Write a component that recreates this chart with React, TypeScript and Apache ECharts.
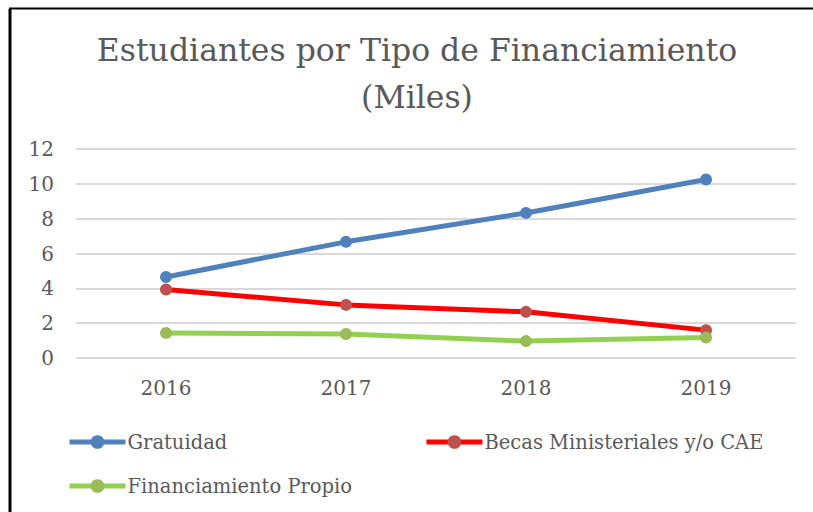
import React, { useEffect, useRef } from "react";
import * as echarts from "echarts";

const years = ["2016", "2017", "2018", "2019"];
const gratuidad = [4.65, 6.67, 8.33, 10.25];
const becas = [3.93, 3.05, 2.65, 1.6];
const propio = [1.44, 1.38, 0.97, 1.18];
const yTicks = [0, 2, 4, 6, 8, 10, 12];

const FONT = "'DejaVu Serif', serif";
const GREY = "#595959";

export default function App() {
  const ref = useRef<HTMLDivElement>(null);
  useEffect(() => {
    if (!ref.current) return;
    const chart = echarts.init(ref.current, null, { renderer: "svg" });
    const mk = (name: string, data: number[], line: string, marker: string) => ({
      name,
      type: "line",
      data,
      symbol: "circle",
      symbolSize: 12,
      lineStyle: { color: line, width: 5 },
      itemStyle: { color: marker, borderWidth: 0 },
    });
    const legendBase = {
      itemWidth: 56,
      itemHeight: 17,
      itemGap: 0,
      lineStyle: { width: 5 },
      textStyle: { fontFamily: FONT, fontSize: 19.5, color: GREY, padding: [0, 0, 0, -3] },
      padding: 0,
    };
    chart.setOption({
      animation: false,
      backgroundColor: "#fff",
      title: {
        text: "Estudiantes por Tipo de Financiamiento\n(Miles)",
        left: 412,
        textAlign: "center",
        top: 21,
        textStyle: {
          fontFamily: FONT,
          fontSize: 31.5,
          fontWeight: "normal",
          color: GREY,
          lineHeight: 47,
        },
      },
      grid: { left: 76, right: 17, top: 149, bottom: 154 },
      xAxis: {
        type: "category",
        data: years,
        boundaryGap: true,
        axisLine: { show: false },
        axisTick: { show: false },
        axisLabel: { fontFamily: FONT, fontSize: 20, color: GREY, margin: 20 },
      },
      yAxis: {
        type: "value",
        min: yTicks[0],
        max: yTicks[yTicks.length - 1],
        interval: 2,
        axisLine: { show: false },
        axisTick: { show: false },
        axisLabel: { fontFamily: FONT, fontSize: 20, color: GREY, margin: 22 },
        splitLine: { lineStyle: { color: "#D9D9D9", width: 2 } },
      },
      legend: [
        { ...legendBase, data: ["Gratuidad"], left: 67, top: 432 },
        { ...legendBase, data: ["Becas Ministeriales y/o CAE"], left: 424, top: 432 },
        { ...legendBase, data: ["Financiamiento Propio"], left: 67, top: 476 },
      ],
      series: [
        mk("Gratuidad", gratuidad, "#4F81BD", "#4F81BD"),
        mk("Becas Ministeriales y/o CAE", becas, "#FF0000", "#C0504D"),
        mk("Financiamiento Propio", propio, "#92D050", "#9BBB59"),
      ],
      graphic: [
        { type: "line", shape: { x1: 10, y1: 9, x2: 10, y2: 512 }, style: { stroke: "#000", lineWidth: 3 } },
        { type: "line", shape: { x1: 9, y1: 8.5, x2: 813, y2: 8.5 }, style: { stroke: "#000", lineWidth: 2 } },
      ],
    });
    return () => chart.dispose();
  }, []);
  return (
    <div
      ref={ref}
      style={{ position: "fixed", left: 0, top: 0, width: 813, height: 512 }}
    />
  );
}
